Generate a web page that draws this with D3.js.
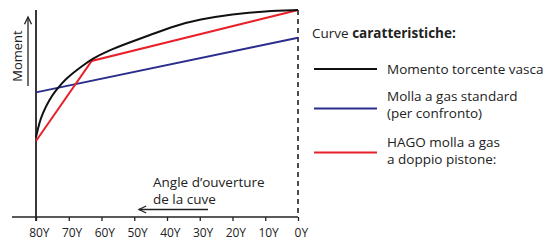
<!DOCTYPE html>
<html>
<head>
<meta charset="utf-8">
<script src="https://cdn.jsdelivr.net/npm/d3@7"></script>
<style>
  body { margin: 0; background: #fff; }
  svg text { font-family: "Open Sans", "Noto Sans", sans-serif; fill: #222; }
</style>
</head>
<body>
<svg id="chart" width="547" height="240"></svg>
<script>
// angle of opening (deg) and relative moment (0..100)
var angles = [80, 70, 60, 50, 40, 30, 20, 10, 0];
var tickLabels = ["80", "70", "60", "50", "40", "30", "20", "10", "0"];

var tubAngle = [80, 79, 78, 76, 74, 72, 70, 66, 63, 58, 52, 45, 38, 30, 20, 10, 0];
var tubMoment = [38.5, 45.5, 50, 56.5, 61, 64.8, 68, 72.8, 76.3, 80.3, 84, 88, 92.2, 95.5, 98, 99.5, 100];

var stdAngle = [80, 0];
var stdMoment = [60.2, 86.6];

var hagoAngle = [80, 63, 0];
var hagoMoment = [36.7, 75.4, 100];

var legendNames = [["Momento torcente vasca"], ["Molla a gas standard", "(per confronto)"], ["HAGO molla a gas", "a doppio pistone:"]];
var legendColors = ["#111111", "#2b2d8c", "#e8202a"];

var svg = d3.select("#chart");

var x = d3.scaleLinear().domain([80, 0]).range([36, 298]);
var y = d3.scaleLinear().domain([0, 100]).range([217, 10]);

function pts(a, m) {
    return a.map(function (d, i) { return [d, m[i]]; });
}

// x axis line (extends left of y axis)
svg.append("line").attr("x1", 12).attr("x2", x(0)).attr("y1", y(0)).attr("y2", y(0))
    .attr("stroke", "#222").attr("stroke-width", 1.5);

var xAxis = svg.append("g").attr("transform", "translate(0," + y(0) + ")")
    .call(d3.axisBottom(x).tickValues(angles).tickSize(4).tickFormat(""));
xAxis.select(".domain").remove();
xAxis.selectAll(".tick line").attr("stroke", "#222").attr("stroke-width", 1.3);

// labels: number centered on tick, then a trailing "Y"
angles.forEach(function (a, i) {
    var t = svg.append("text").attr("y", 237).style("font-size", "12px");
    var n = t.append("tspan").text(tickLabels[i]);
    t.append("tspan").text("Y");
    var w = n.node().getComputedTextLength();
    t.attr("x", x(a) - w / 2);
});

// y axis
svg.append("line").attr("x1", x(80)).attr("x2", x(80)).attr("y1", 10).attr("y2", y(0) + 4)
    .attr("stroke", "#222").attr("stroke-width", 1.8);

// dashed line at 0
svg.append("line").attr("x1", x(0)).attr("x2", x(0)).attr("y1", 10).attr("y2", y(0))
    .attr("stroke", "#111").attr("stroke-width", 1.5).attr("stroke-dasharray", "5,4");

var line = d3.line().x(function (d) { return x(d[0]); }).y(function (d) { return y(d[1]); });
var curve = d3.line().curve(d3.curveBasis).x(function (d) { return x(d[0]); }).y(function (d) { return y(d[1]); });

svg.append("path").datum(pts(stdAngle, stdMoment)).attr("d", line)
    .attr("fill", "none").attr("stroke", legendColors[1]).attr("stroke-width", 2);
svg.append("path").datum(pts(hagoAngle, hagoMoment)).attr("d", line)
    .attr("fill", "none").attr("stroke", legendColors[2]).attr("stroke-width", 2);
svg.append("path").datum(pts(tubAngle, tubMoment)).attr("d", curve)
    .attr("fill", "none").attr("stroke", legendColors[0]).attr("stroke-width", 2);

// "Moment" label with arrow
svg.append("text").attr("transform", "translate(22,56) rotate(-90)").attr("text-anchor", "middle")
    .style("font-size", "13px").text("Moment");
function arrow(x1, y1, x2, y2) {
    var g = svg.append("g").attr("stroke", "#222").attr("stroke-width", 1.3).attr("fill", "none");
    g.append("line").attr("x1", x1).attr("y1", y1).attr("x2", x2).attr("y2", y2);
    var ang = Math.atan2(y2 - y1, x2 - x1), L = 8, s = 0.45;
    g.append("path").attr("d", "M" + (x2 - L * Math.cos(ang - s)) + "," + (y2 - L * Math.sin(ang - s)) +
        "L" + x2 + "," + y2 + "L" + (x2 - L * Math.cos(ang + s)) + "," + (y2 - L * Math.sin(ang + s)));
}
arrow(28, 86, 28, 17);

// angle label with arrow
svg.append("text").attr("x", 153).attr("y", 187).style("font-size", "13.5px").text("Angle d’ouverture");
svg.append("text").attr("x", 153).attr("y", 204).style("font-size", "13.5px").text("de la cuve");
arrow(208, 209.5, 139, 209.5);

// legend
svg.append("text").attr("x", 312).attr("y", 38).style("font-size", "13.5px")
    .call(function (t) {
        t.append("tspan").text("Curve ");
        t.append("tspan").style("font-weight", "bold").text("caratteristiche:");
    });

var legY = [69, 108.5, 152.5];
var firstBase = [74, 100.5, 146.5];
legendNames.forEach(function (names, i) {
    svg.append("line").attr("x1", 314).attr("x2", 377).attr("y1", legY[i]).attr("y2", legY[i])
        .attr("stroke", legendColors[i]).attr("stroke-width", 2);
    names.forEach(function (nm, j) {
        svg.append("text").attr("x", 387).attr("y", firstBase[i] + j * 17.5)
            .style("font-size", "13.5px").text(nm);
    });
});
</script>
</body>
</html>
